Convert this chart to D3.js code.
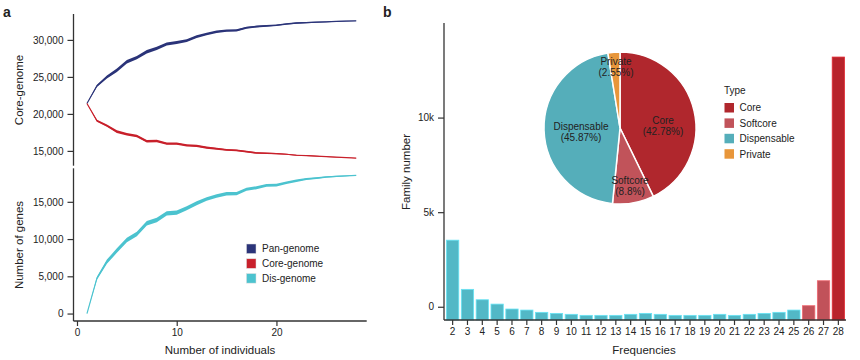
<!DOCTYPE html>
<html><head><meta charset="utf-8">
<script src="https://cdn.jsdelivr.net/npm/d3@7"></script>
<style>body{margin:0;background:#fff}svg{display:block}text{font-family:"Liberation Sans",Arial,sans-serif;fill:#222}</style>
</head><body><svg id="c" width="860" height="360"></svg>
<script>
// ---------- Panel a data ----------
const individuals = d3.range(1, 29);
const panGenome  = [21400,23800,25000,25900,27050,27600,28400,28850,29450,29650,29900,30450,30800,31100,31250,31300,31650,31800,31900,31980,32150,32280,32340,32390,32440,32500,32550,32580];
const coreGenome = [21400,19080,18410,17600,17250,17020,16300,16340,15980,15980,15760,15670,15440,15300,15130,15080,14900,14720,14680,14630,14550,14410,14370,14300,14220,14150,14080,14020];
const disGenome  = [0,4750,6970,8450,9880,10680,12120,12560,13460,13540,14130,14800,15380,15780,16090,16090,16680,16890,17210,17250,17560,17830,18060,18190,18330,18420,18490,18550];
const panSpread  = [0,300,400,450,450,450,450,450,420,400,400,380,350,320,300,300,280,260,240,220,200,180,150,120,100,80,50,20];
const coreSpread = [0,250,300,350,350,350,350,350,330,300,300,300,280,260,250,240,230,220,200,180,160,140,120,100,80,60,40,20];
const disSpread  = [0,400,550,600,600,600,600,600,580,560,540,520,500,480,460,440,420,400,380,360,340,320,280,240,200,160,100,40];
const seriesNames = ["Pan-genome","Core-genome","Dis-genome"];
const seriesColors = ["#2b3479","#c8202b","#4cc3cf"];
const topTicks = [15000,20000,25000,30000];
const bottomTicks = [0,5000,10000,15000];
const xTicksA = [0,10,20];

// ---------- Panel b data ----------
const frequencies = d3.range(2, 29);
const familyNumber = [3520,920,370,140,-120,-175,-295,-350,-400,-455,-455,-455,-400,-350,-400,-455,-455,-455,-400,-455,-400,-350,-295,-175,55,1375,13200];
const familyType = ["Dispensable","Dispensable","Dispensable","Dispensable","Dispensable","Dispensable","Dispensable","Dispensable","Dispensable","Dispensable","Dispensable","Dispensable","Dispensable","Dispensable","Dispensable","Dispensable","Dispensable","Dispensable","Dispensable","Dispensable","Dispensable","Dispensable","Dispensable","Dispensable","Softcore","Softcore","Core"];
const pieTypes = ["Core","Softcore","Dispensable","Private"];
const piePercent = [42.78,8.8,45.87,2.55];
const pieLabels = ["42.78%","8.8%","45.87%","2.55%"];
const barColors = {Core:"#b8232b",Softcore:"#c1525a",Dispensable:"#52b8c6",Private:"#e8963a"};
const pieColors = {Core:"#b0272d",Softcore:"#c1535a",Dispensable:"#55aeba",Private:"#e8963a"};
const yTicksB = [0,5000,10000];

const svg = d3.select("#c");
const axisCol = "#333";

function styleAxis(g){
  g.selectAll("path.domain").attr("stroke",axisCol).attr("stroke-width",1.3);
  g.selectAll(".tick line").attr("stroke",axisCol).attr("stroke-width",1.2);
  g.selectAll(".tick text").attr("fill","#222").style("font-size","10px").style("font-family","'Liberation Sans',Arial,sans-serif");
}

// ---------- Panel a ----------
const xA = d3.scaleLinear().domain([-0.35, 29.05]).range([73.5, 366.7]);
const yTop = d3.scaleLinear().domain([13000, 33500]).range([165.7, 14]);
const yBot = d3.scaleLinear().domain([-1000, 19500]).range([321, 168.3]);

function band(vals, spread, y){
  return d3.area().x((d,i)=>xA(individuals[i])).y0((d,i)=>y(vals[i]-spread[i]/2)).y1((d,i)=>y(vals[i]+spread[i]/2)).curve(d3.curveLinear)(vals);
}
function lineP(vals, y){
  return d3.line().x((d,i)=>xA(individuals[i])).y((d,i)=>y(vals[i]))(vals);
}
const series = [[panGenome,panSpread,yTop],[coreGenome,coreSpread,yTop],[disGenome,disSpread,yBot]];
series.forEach(([v,s,y],k)=>{
  svg.append("path").attr("d",band(v,s,y)).attr("fill",seriesColors[k]).attr("stroke","none");
  svg.append("path").attr("d",lineP(v,y)).attr("fill","none").attr("stroke",seriesColors[k]).attr("stroke-width",1.2);
});

const gTop = svg.append("g").attr("transform","translate(73.5,0)").call(d3.axisLeft(yTop).tickValues(topTicks).tickFormat(d3.format(",")).tickSize(6).tickPadding(4));
styleAxis(gTop);
const gBot = svg.append("g").attr("transform","translate(73.5,0)").call(d3.axisLeft(yBot).tickValues(bottomTicks).tickFormat(d3.format(",")).tickSize(6).tickPadding(4));
styleAxis(gBot);
gTop.select("path.domain").attr("d","M0,14V165.7");
gBot.select("path.domain").attr("d","M0,168.3V321");
const gXA = svg.append("g").attr("transform","translate(0,321)").call(d3.axisBottom(xA).tickValues(xTicksA).tickSize(5).tickPadding(3));
styleAxis(gXA);
gXA.select("path.domain").attr("d","M73.5,0H366.7");

svg.append("text").attr("transform","translate(23,90) rotate(-90)").attr("text-anchor","middle").style("font-size","11.5px").text("Core-genome");
svg.append("text").attr("transform","translate(23,245) rotate(-90)").attr("text-anchor","middle").style("font-size","11.5px").text("Number of genes");
svg.append("text").attr("x",220).attr("y",354).attr("text-anchor","middle").style("font-size","11.5px").text("Number of individuals");
svg.append("text").attr("x",3).attr("y",17).style("font-size","14px").style("font-weight","bold").text("a");

const legA = svg.append("g");
seriesNames.forEach((n,i)=>{
  const yy = 244 + i*14.8;
  legA.append("rect").attr("x",246.5).attr("y",yy).attr("width",9.5).attr("height",9.5).attr("fill",seriesColors[i]).attr("stroke","#ddd").attr("stroke-width",0.5);
  legA.append("text").attr("x",262).attr("y",yy+8.3).style("font-size","10px").text(n);
});

// ---------- Panel b ----------
const xB = d3.scaleBand().domain(frequencies).range([445, 846]).paddingInner(0.17).paddingOuter(0.1);
const yB = d3.scaleLinear().domain([-700, 15000]).range([320, 23]);

svg.append("g").selectAll("rect").data(frequencies).join("rect")
  .attr("x",d=>xB(d)).attr("width",xB.bandwidth())
  .attr("y",(d,i)=>yB(familyNumber[i])).attr("height",(d,i)=>yB(-700)-yB(familyNumber[i]))
  .attr("fill",(d,i)=>barColors[familyType[i]])
  .attr("stroke",(d,i)=>d3.color(barColors[familyType[i]]).brighter(0.6)).attr("stroke-width",0.8);

const gYB = svg.append("g").attr("transform","translate(444,0)").call(d3.axisLeft(yB).tickValues(yTicksB).tickFormat(d=>d===0?"0":(d/1000)+"k").tickSize(6).tickPadding(4));
styleAxis(gYB);
gYB.select("path.domain").attr("d","M0,23V320");
const gXB = svg.append("g").attr("transform","translate(0,320)").call(d3.axisBottom(xB).tickSize(5).tickPadding(3));
styleAxis(gXB);
gXB.select("path.domain").attr("d","M444,0H846");

svg.append("text").attr("transform","translate(410,172) rotate(-90)").attr("text-anchor","middle").style("font-size","11.5px").text("Family number");
svg.append("text").attr("x",644).attr("y",354).attr("text-anchor","middle").style("font-size","11.5px").text("Frequencies");
svg.append("text").attr("x",383).attr("y",17).style("font-size","14px").style("font-weight","bold").text("b");

// Pie
const pieData = d3.pie().sort(null).value((d,i)=>piePercent[i])(pieTypes);
const R = 76;
const arc = d3.arc().innerRadius(0).outerRadius(R);
const gPie = svg.append("g").attr("transform","translate(620,128)");
gPie.selectAll("path").data(pieData).join("path").attr("d",arc)
  .attr("fill",d=>pieColors[d.data]).attr("stroke","#fff").attr("stroke-width",1.5);
const labelPos = {Core:[43,-4],Softcore:[10,56],Dispensable:[-39,2],Private:[-4,-63]};
pieData.forEach((d,i)=>{
  const [lx,ly] = labelPos[d.data];
  const t = gPie.append("text").attr("text-anchor","middle").style("font-size","10px");
  t.append("tspan").attr("x",lx).attr("y",ly).text(d.data);
  t.append("tspan").attr("x",lx).attr("y",ly+10.5).text("("+pieLabels[i]+")");
});

// Legend b
svg.append("text").attr("x",724).attr("y",94).style("font-size","10px").text("Type");
pieTypes.forEach((n,i)=>{
  const yy = 103 + i*15.4;
  svg.append("rect").attr("x",724.5).attr("y",yy).attr("width",9.5).attr("height",9.5).attr("fill",pieColors[n]);
  svg.append("text").attr("x",739.5).attr("y",yy+8.3).style("font-size","10px").text(n);
});
</script></body></html>
